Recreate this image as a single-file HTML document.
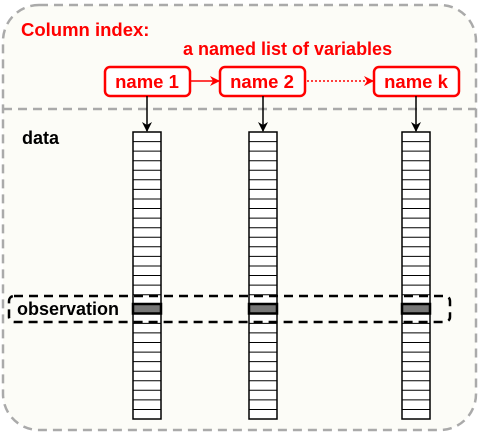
<!DOCTYPE html>
<html><head><style>
body{margin:0;background:#fff;}
svg{display:block;}
</style></head><body>
<svg width="480" height="433" viewBox="0 0 480 433" xmlns="http://www.w3.org/2000/svg" font-family="Liberation Sans, Arial, sans-serif" font-weight="bold">
<defs>
<marker id="ab" markerWidth="10" markerHeight="10" refX="9" refY="5" orient="auto" markerUnits="userSpaceOnUse"><path d="M0,0 L10,5 L0,10 L3,5 z" fill="#000"/></marker>
<marker id="ar" markerWidth="10" markerHeight="10" refX="9" refY="5" orient="auto" markerUnits="userSpaceOnUse"><path d="M0,0 L10,5 L0,10 L3,5 z" fill="#f00"/></marker>
</defs>
<rect x="3" y="5" width="473" height="425" rx="36" fill="#fcfcf7" stroke="#aaa" stroke-width="2.5" stroke-dasharray="9,6"/>
<line x1="3" y1="109" x2="476" y2="109" stroke="#aaa" stroke-width="2.5" stroke-dasharray="9,6"/>
<text x="21" y="36" fill="#f00" font-size="18.5">Column index:</text>
<text x="183" y="55" fill="#f00" font-size="18">a named list of variables</text>
<g fill="#fff" stroke="#f00" stroke-width="2.5">
<rect x="105" y="67" width="85" height="29" rx="5"/>
<rect x="220" y="67" width="85" height="29" rx="5"/>
<rect x="374" y="67" width="85" height="29" rx="5"/>
</g>
<g fill="#f00" font-size="18.5" text-anchor="middle">
<text x="147" y="88">name 1</text>
<text x="262" y="88">name 2</text>
<text x="416" y="88">name k</text>
</g>
<line x1="190" y1="81" x2="219" y2="81" stroke="#f00" stroke-width="1.5" marker-end="url(#ar)"/>
<line x1="307" y1="81" x2="373" y2="81" stroke="#f00" stroke-width="1.5" stroke-dasharray="2,2" marker-end="url(#ar)"/>
<g stroke="#000" stroke-width="1.5">
<line x1="147" y1="96" x2="147" y2="131" marker-end="url(#ab)"/>
<line x1="263" y1="96" x2="263" y2="131" marker-end="url(#ab)"/>
<line x1="416" y1="96" x2="416" y2="131" marker-end="url(#ab)"/>
</g>
<text x="22" y="144" fill="#000" font-size="18">data</text>
<rect x="133" y="132" width="28" height="287" fill="#fff" stroke="#000" stroke-width="1.5"/>
<rect x="249" y="132" width="28" height="287" fill="#fff" stroke="#000" stroke-width="1.5"/>
<rect x="402" y="132" width="28" height="287" fill="#fff" stroke="#000" stroke-width="1.5"/>
<g stroke="#000" stroke-width="1">
<path d="
M133,141.6h28M133,151.1h28M133,160.7h28M133,170.3h28M133,179.8h28M133,189.4h28M133,199h28M133,208.5h28M133,218.1h28M133,227.7h28M133,237.3h28M133,246.8h28M133,256.4h28M133,266h28M133,275.5h28M133,285.1h28M133,294.7h28M133,304.2h28M133,313.8h28M133,323.4h28M133,332.9h28M133,342.5h28M133,352.1h28M133,361.6h28M133,371.2h28M133,380.8h28M133,390.3h28M133,399.9h28M133,409.5h28"/>
<path transform="translate(116,0)" d="
M133,141.6h28M133,151.1h28M133,160.7h28M133,170.3h28M133,179.8h28M133,189.4h28M133,199h28M133,208.5h28M133,218.1h28M133,227.7h28M133,237.3h28M133,246.8h28M133,256.4h28M133,266h28M133,275.5h28M133,285.1h28M133,294.7h28M133,304.2h28M133,313.8h28M133,323.4h28M133,332.9h28M133,342.5h28M133,352.1h28M133,361.6h28M133,371.2h28M133,380.8h28M133,390.3h28M133,399.9h28M133,409.5h28"/>
<path transform="translate(269,0)" d="
M133,141.6h28M133,151.1h28M133,160.7h28M133,170.3h28M133,179.8h28M133,189.4h28M133,199h28M133,208.5h28M133,218.1h28M133,227.7h28M133,237.3h28M133,246.8h28M133,256.4h28M133,266h28M133,275.5h28M133,285.1h28M133,294.7h28M133,304.2h28M133,313.8h28M133,323.4h28M133,332.9h28M133,342.5h28M133,352.1h28M133,361.6h28M133,371.2h28M133,380.8h28M133,390.3h28M133,399.9h28M133,409.5h28"/>
</g>
<g fill="#777" stroke="#000" stroke-width="2.5">
<rect x="133" y="304" width="28" height="9.5"/>
<rect x="249" y="304" width="28" height="9.5"/>
<rect x="402" y="304" width="28" height="9.5"/>
</g>
<rect x="9" y="296" width="441" height="26" rx="5" fill="none" stroke="#000" stroke-width="2.5" stroke-dasharray="9,6"/>
<text x="17" y="315" fill="#000" font-size="18">observation</text>
</svg>
</body></html>
